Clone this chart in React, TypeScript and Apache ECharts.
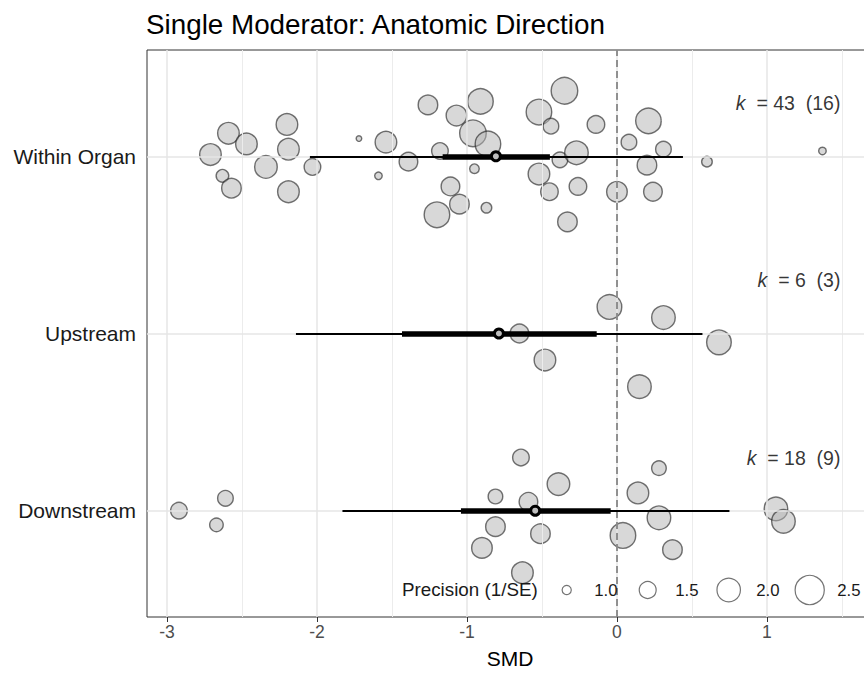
import React, { useEffect, useRef } from "react";
import * as echarts from "echarts";

// ---------- data ----------
const categories = ["Downstream", "Upstream", "Within Organ"]; // y positions 1, 2, 3

const withinSmd = [-2.71, -2.59, -2.47, -2.63, -2.57, -2.34, -2.2, -2.19, -2.19, -2.03, -1.72, -1.54, -1.59, -1.39, -1.26, -1.18, -1.07, -0.91, -0.96, -0.86, -0.95, -1.11, -1.05, -1.2, -0.87, -0.52, -0.44, -0.35, -0.38, -0.52, -0.45, -0.33, -0.27, -0.26, -0.14, 0.08, 0.21, 0.31, 0.2, 0.6, 1.37, 0.0, 0.24];
const withinJitter = [0.01, 0.13, 0.07, -0.11, -0.18, -0.06, 0.18, 0.04, -0.2, -0.06, 0.1, 0.08, -0.11, -0.03, 0.29, 0.03, 0.23, 0.31, 0.13, 0.07, -0.07, -0.17, -0.27, -0.33, -0.29, 0.25, 0.17, 0.37, -0.02, -0.1, -0.2, -0.37, 0.02, -0.17, 0.18, 0.08, 0.2, 0.04, -0.05, -0.03, 0.03, -0.2, -0.2];
const withinPrecision = [1.9, 1.9, 1.9, 1.25, 1.74, 1.98, 1.9, 1.9, 1.9, 1.52, 0.83, 1.9, 0.94, 1.67, 1.74, 1.52, 1.82, 2.23, 2.32, 2.23, 1.06, 1.67, 1.74, 2.23, 1.12, 2.23, 1.45, 2.32, 1.45, 1.9, 1.59, 1.74, 2.06, 1.59, 1.59, 1.45, 2.23, 1.45, 1.74, 1.12, 0.94, 1.82, 1.67];

const upstreamSmd = [-0.65, -0.48, -0.05, 0.31, 0.68, 0.15];
const upstreamJitter = [0.0, -0.15, 0.15, 0.09, -0.05, -0.3];
const upstreamPrecision = [1.67, 1.9, 2.15, 2.06, 2.15, 2.06];

const downstreamSmd = [-2.92, -2.61, -2.67, -0.64, -0.39, -0.81, -0.59, -0.81, -0.51, -0.9, -0.63, 0.28, 0.14, 0.28, 0.04, 0.37, 1.06, 1.11];
const downstreamJitter = [0.0, 0.07, -0.08, 0.3, 0.15, 0.08, 0.05, -0.09, -0.13, -0.21, -0.35, 0.24, 0.1, -0.04, -0.14, -0.22, 0.01, -0.06];
const downstreamPrecision = [1.52, 1.45, 1.31, 1.52, 1.98, 1.38, 1.67, 1.74, 1.74, 1.82, 1.9, 1.38, 1.9, 2.06, 2.23, 1.74, 2.06, 2.06];

// summary per category (Downstream, Upstream, Within Organ)
const estimates = [-0.545, -0.787, -0.807];
const ciLower = [-1.04, -1.433, -1.162];
const ciUpper = [-0.042, -0.135, -0.447];
const piLower = [-1.83, -2.14, -2.047];
const piUpper = [0.75, 0.57, 0.44];
const kCounts = [18, 6, 43];
const studyCounts = [9, 3, 16];

const xTicks = [-3, -2, -1, 0, 1];
const xMinorTicks = [-2.5, -1.5, -0.5, 0.5, 1.5];
const precisionBreaks = [1.0, 1.5, 2.0, 2.5];

// ---------- styling ----------
const FONT = '"Liberation Sans", Arial, Helvetica, sans-serif';
const X_MIN = -3.133;
const X_MAX = 1.707;
const K_LABEL_X = 1.49;
const K_LABEL_DY = 0.3;

function sizeOf(p: number) {
  return Math.max(3, -24.4 + 34.4 * Math.sqrt(p));
}

const groups = [
  { cat: 1, smd: downstreamSmd, jitter: downstreamJitter, prec: downstreamPrecision },
  { cat: 2, smd: upstreamSmd, jitter: upstreamJitter, prec: upstreamPrecision },
  { cat: 3, smd: withinSmd, jitter: withinJitter, prec: withinPrecision },
];

function buildOption() {
  const gridLines: any[] = [];
  xMinorTicks.forEach((v) =>
    gridLines.push({ xAxis: v, lineStyle: { color: "#ececec", width: 1, type: "solid" } })
  );
  xTicks.forEach((v) =>
    gridLines.push({ xAxis: v, lineStyle: { color: "#e6e6e6", width: 1.5, type: "solid" } })
  );
  categories.forEach((_, i) =>
    gridLines.push({ yAxis: i + 1, lineStyle: { color: "#e6e6e6", width: 1.5, type: "solid" } })
  );

  const bubbleSeries = groups.map((g) => ({
    type: "scatter",
    z: 3,
    silent: true,
    data: g.smd.map((x, i) => [x, g.cat + g.jitter[i], g.prec[i]]),
    symbol: "circle",
    symbolSize: (v: number[]) => sizeOf(v[2]) - 1.4,
    itemStyle: {
      color: "rgba(178,178,178,0.5)",
      borderColor: "rgba(30,30,30,0.62)",
      borderWidth: 1.4,
      opacity: 1,
    },
  }));

  const legendX0 = 566.7;
  const legendStep = 81;
  const legendY = 590;
  const legendGraphics: any[] = [
    {
      type: "text",
      x: 402,
      y: legendY - 1,
      style: {
        text: "Precision (1/SE)",
        font: `18.8px ${FONT}`,
        fill: "#1a1a1a",
        textAlign: "left",
        textVerticalAlign: "middle",
      },
      z: 20,
    },
  ];
  precisionBreaks.forEach((p, i) => {
    const cx = legendX0 + legendStep * i;
    legendGraphics.push({
      type: "circle",
      shape: { cx, cy: legendY, r: (sizeOf(p) - 0.8) / 2 },
      style: { fill: "none", stroke: "rgba(30,30,30,0.62)", lineWidth: 1.2 },
      z: 20,
    });
    legendGraphics.push({
      type: "text",
      x: cx + 27.5,
      y: legendY,
      style: {
        text: p.toFixed(1),
        font: `16.8px ${FONT}`,
        fill: "#1a1a1a",
        textAlign: "left",
        textVerticalAlign: "middle",
      },
      z: 20,
    });
  });

  return {
    animation: false,
    backgroundColor: "#ffffff",
    textStyle: { fontFamily: FONT },
    title: {
      text: "Single Moderator: Anatomic Direction",
      left: 141,
      top: 5,
      textStyle: { fontFamily: FONT, fontSize: 27.8, fontWeight: "normal", color: "#000000" },
    },
    grid: {
      left: 147,
      right: 27,
      top: 50,
      bottom: 56,
      show: true,
      borderColor: "#333333",
      borderWidth: 1,
      backgroundColor: "transparent",
    },
    xAxis: {
      type: "value",
      min: X_MIN,
      max: X_MAX,
      axisLine: { show: false },
      axisTick: { show: true, customValues: xTicks, length: 5, lineStyle: { color: "#333333", width: 1 } },
      axisLabel: {
        customValues: xTicks,
        formatter: (v: number) => String(v),
        color: "#4d4d4d",
        fontSize: 17.5,
        fontFamily: FONT,
        margin: 6,
      },
      splitLine: { show: false },
      name: "SMD",
      nameLocation: "middle",
      nameGap: 31,
      nameTextStyle: { fontSize: 21, color: "#000000", fontFamily: FONT },
    },
    yAxis: {
      type: "value",
      min: 0.4,
      max: 3.6,
      axisLine: { show: false },
      axisTick: { show: true, customValues: [1, 2, 3], length: 5, lineStyle: { color: "#333333", width: 1 } },
      axisLabel: {
        customValues: [1, 2, 3],
        formatter: (v: number) => categories[Math.round(v) - 1] ?? "",
        color: "#1a1a1a",
        fontSize: 21,
        fontFamily: FONT,
        margin: 11,
      },
      splitLine: { show: false },
    },
    graphic: legendGraphics,
    series: [
      {
        type: "scatter",
        data: [[0, 2]],
        symbolSize: 0,
        silent: true,
        z: 1,
        markLine: {
          silent: true,
          symbol: ["none", "none"],
          label: { show: false },
          emphasis: { disabled: true },
          data: gridLines,
        },
      },
      {
        type: "scatter",
        data: [[0, 2]],
        symbolSize: 0,
        silent: true,
        z: 2,
        markLine: {
          silent: true,
          symbol: ["none", "none"],
          label: { show: false },
          emphasis: { disabled: true },
          data: [{ xAxis: 0, lineStyle: { color: "#7a7a7a", width: 1.6, type: [7, 4] } }],
        },
      },
      ...bubbleSeries,
      {
        type: "lines",
        coordinateSystem: "cartesian2d",
        z: 6,
        silent: true,
        lineStyle: { color: "#000000", width: 2.2, opacity: 1, cap: "butt" },
        data: categories.map((_, i) => ({ coords: [[piLower[i], i + 1], [piUpper[i], i + 1]] })),
      },
      {
        type: "lines",
        coordinateSystem: "cartesian2d",
        z: 7,
        silent: true,
        lineStyle: { color: "#000000", width: 5.5, opacity: 1, cap: "butt" },
        data: categories.map((_, i) => ({ coords: [[ciLower[i], i + 1], [ciUpper[i], i + 1]] })),
      },
      {
        type: "scatter",
        z: 8,
        silent: true,
        data: categories.map((_, i) => [estimates[i], i + 1]),
        symbol: "circle",
        symbolSize: 9,
        itemStyle: { color: "#bdbdbd", borderColor: "#000000", borderWidth: 3, opacity: 1 },
      },
      {
        type: "scatter",
        z: 9,
        silent: true,
        data: categories.map((_, i) => [K_LABEL_X, i + 1 + K_LABEL_DY, kCounts[i], studyCounts[i]]),
        symbolSize: 0,
        label: {
          show: true,
          position: "left",
          distance: 0,
          formatter: (p: any) => `{k|k}{t|  = ${p.value[2]}  (${p.value[3]})}`,
          rich: {
            k: { fontStyle: "italic", fontSize: 19.5, color: "#000000", fontFamily: FONT },
            t: { fontSize: 19.5, color: "#000000", fontFamily: FONT },
          },
        },
      },
    ],
  };
}

export default function App() {
  const ref = useRef<HTMLDivElement>(null);
  useEffect(() => {
    if (!ref.current) return;
    const chart = echarts.init(ref.current, undefined, { renderer: "svg" });
    chart.setOption(buildOption() as any);
    return () => chart.dispose();
  }, []);
  return (
    <div
      style={{
        position: "fixed",
        left: 0,
        top: 0,
        width: 864,
        height: 674,
        overflow: "hidden",
        background: "#ffffff",
      }}
    >
      <div ref={ref} style={{ width: 900, height: 674 }} />
    </div>
  );
}
